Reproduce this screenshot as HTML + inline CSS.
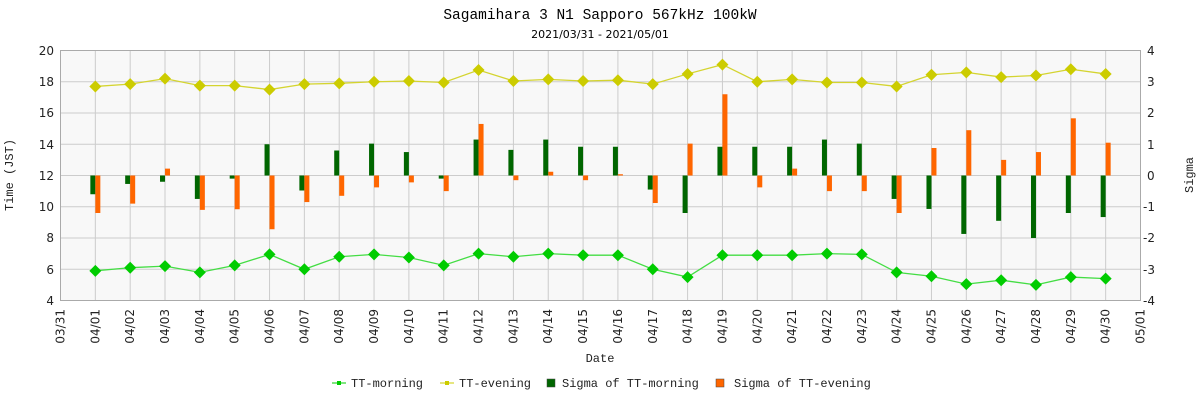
<!DOCTYPE html>
<html><head><meta charset="utf-8"><style>
body{margin:0;background:#fff;width:1200px;height:400px;overflow:hidden}
svg text{font-family:"DejaVu Sans","Liberation Sans",sans-serif;font-size:12px;fill:#222}
.m{font-family:"Liberation Mono","Noto Sans CJK JP",monospace}
</style></head><body>
<svg id="s" width="1200" height="400" xmlns="http://www.w3.org/2000/svg">
<rect x="60.5" y="50.5" width="1080" height="250" fill="#f8f8f8"/>
<g id="g"></g>
<rect x="60.5" y="50.5" width="1080" height="250" fill="none" stroke="#aaa"/>
<text class="m" x="600" y="19" text-anchor="middle" style="font-size:14.5px;fill:#000">Sagamihara 3 N1 Sapporo 567kHz 100kW</text>
<text x="600" y="38" text-anchor="middle" style="font-size:11px;fill:#000">2021/03/31 - 2021/05/01</text>
<g text-anchor="end">
<text x="54" y="55">20</text><text x="54" y="86">18</text><text x="54" y="117">16</text><text x="54" y="149">14</text><text x="54" y="180">12</text><text x="54" y="211">10</text><text x="54" y="242">8</text><text x="54" y="274">6</text><text x="54" y="305">4</text>
</g>
<g text-anchor="start">
<text x="1147" y="55">4</text><text x="1147" y="86">3</text><text x="1147" y="117">2</text><text x="1147" y="149">1</text><text x="1147" y="180">0</text><text x="1143" y="211">-1</text><text x="1143" y="242">-2</text><text x="1143" y="274">-3</text><text x="1143" y="305">-4</text>
</g>
<text class="m" transform="translate(13,175) rotate(-90)" text-anchor="middle">Time (JST)</text>
<text class="m" transform="translate(1193,175) rotate(-90)" text-anchor="middle">Sigma</text>
<text class="m" x="600" y="362" text-anchor="middle">Date</text>
<g id="xl" text-anchor="end">
<text>03/31</text><text>04/01</text><text>04/02</text><text>04/03</text><text>04/04</text><text>04/05</text><text>04/06</text><text>04/07</text><text>04/08</text><text>04/09</text><text>04/10</text><text>04/11</text><text>04/12</text><text>04/13</text><text>04/14</text><text>04/15</text><text>04/16</text><text>04/17</text><text>04/18</text><text>04/19</text><text>04/20</text><text>04/21</text><text>04/22</text><text>04/23</text><text>04/24</text><text>04/25</text><text>04/26</text><text>04/27</text><text>04/28</text><text>04/29</text><text>04/30</text><text>05/01</text>
</g>
<g>
<line x1="332" y1="383" x2="346" y2="383" stroke="#00cc00"/><rect x="337" y="381" width="4" height="4" fill="#00cc00"/>
<text class="m" x="351" y="387">TT-morning</text>
<line x1="440" y1="383" x2="454" y2="383" stroke="#cccc00"/><rect x="445" y="381" width="4" height="4" fill="#cccc00"/>
<text class="m" x="459" y="387">TT-evening</text>
<rect x="547" y="379" width="8" height="8" fill="#006600" stroke="#444" stroke-width=".5"/>
<text class="m" x="562" y="387">Sigma of TT-morning</text>
<rect x="716" y="379" width="8" height="8" fill="#ff6600" stroke="#444" stroke-width=".5"/>
<text class="m" x="734" y="387">Sigma of TT-evening</text>
</g>
</svg>
<script>
var N="http://www.w3.org/2000/svg",g=document.getElementById('g');
function el(t,a){var e=document.createElementNS(N,t);for(var k in a)e.setAttribute(k,a[k]);g.appendChild(e);return e;}
var dx=1080/31;function X(i){return 60.5+i*dx;}
for(var i=1;i<31;i++)el('line',{x1:X(i),x2:X(i),y1:50,y2:300,stroke:'#ccc'});
for(var j=1;j<8;j++)el('line',{x1:60,x2:1140,y1:50.5+j*31.25,y2:50.5+j*31.25,stroke:'#ccc'});
var xl=document.getElementById('xl').children;
for(var i=0;i<xl.length;i++)xl[i].setAttribute('transform','translate('+(X(i)+4)+',309) rotate(-90)');
var mo=[5.9,6.1,6.2,5.8,6.25,6.95,6.0,6.8,6.95,6.75,6.25,7.0,6.8,7.0,6.9,6.9,6.0,5.5,6.9,6.9,6.9,7.0,6.95,5.8,5.55,5.05,5.3,5.0,5.5,5.4];
var ev=[17.7,17.85,18.2,17.75,17.75,17.5,17.85,17.9,18.0,18.05,17.95,18.75,18.05,18.15,18.05,18.1,17.85,18.5,19.1,18.0,18.15,17.95,17.95,17.7,18.45,18.6,18.3,18.4,18.8,18.5];
var sm=[-0.6,-0.27,-0.2,-0.75,-0.1,1.0,-0.48,0.8,1.02,0.75,-0.1,1.15,0.82,1.15,0.92,0.92,-0.45,-1.2,0.92,0.92,0.92,1.15,1.02,-0.75,-1.07,-1.87,-1.45,-2.0,-1.2,-1.33];
var se=[-1.2,-0.9,0.22,-1.1,-1.08,-1.72,-0.85,-0.65,-0.38,-0.22,-0.5,1.65,-0.15,0.12,-0.15,0.04,-0.88,1.02,2.6,-0.38,0.22,-0.5,-0.5,-1.2,0.88,1.45,0.5,0.75,1.83,1.05];
function Y(v){return 300.5-(v-4)*15.625;}function S(v){return 175.5-v*31.25;}
function bar(x,v,c){var y=S(v);el('rect',{x:x,y:Math.min(y,175.5),width:5,height:Math.abs(y-175.5),fill:c});}
for(var i=0;i<30;i++){bar(X(i+1)-5,sm[i],'#006600');bar(X(i+1),se[i],'#ff6600');}
function ser(d,c,lc){var p=d.map(function(v,i){return X(i+1)+','+Y(v)}).join(' ');
el('polyline',{points:p,fill:'none',stroke:lc,'stroke-width':1.3});
d.forEach(function(v,i){var x=X(i+1),y=Y(v);el('polygon',{points:(x-6)+','+y+' '+x+','+(y-6)+' '+(x+6)+','+y+' '+x+','+(y+6),fill:c});});}
ser(mo,'#00cc00','#44dd44');ser(ev,'#cccc00','#d4d430');
</script>
</body></html>
